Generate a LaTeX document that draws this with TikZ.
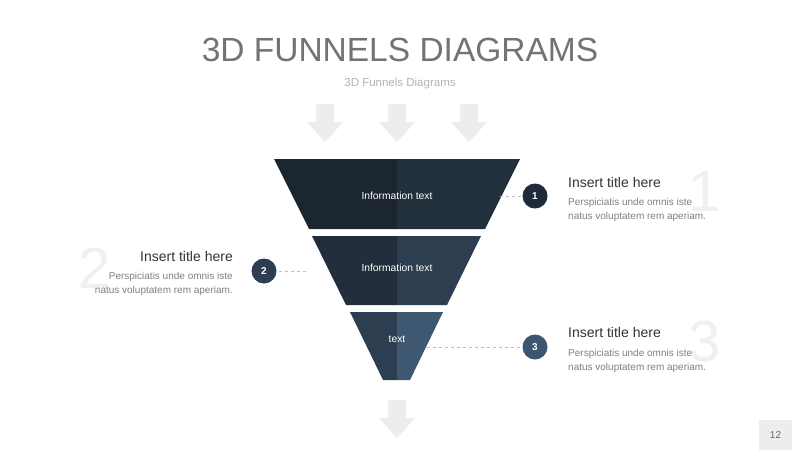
\documentclass[tikz,border=0pt]{standalone}
\usepackage{fontspec}
\setmainfont{Liberation Sans}
\definecolor{c1l}{RGB}{27,38,49}
\definecolor{c1r}{RGB}{34,47,61}
\definecolor{c2l}{RGB}{34,46,59}
\definecolor{c2r}{RGB}{44,62,80}
\definecolor{c3l}{RGB}{44,62,80}
\definecolor{c3r}{RGB}{61,88,112}
\definecolor{n1c}{RGB}{31,43,56}
\definecolor{n2c}{RGB}{44,62,80}
\definecolor{n3c}{RGB}{58,86,112}
\begin{document}
\begin{tikzpicture}[x=1pt,y=-1pt,
  arr/.style={fill=black!7,draw=none},
  num/.style={circle,minimum size=25pt,inner sep=0pt,text=white,font=\fontsize{10}{10}\selectfont\bfseries},
  leader/.style={draw=black!25,dashed,line width=0.5pt},
  ttl/.style={font=\fontsize{14}{14}\selectfont,text=black!80,inner sep=0pt},
  body/.style={font=\fontsize{10}{14}\selectfont,text=black!50,inner sep=0pt,align=left},
  big/.style={font=\fontsize{58}{58}\selectfont,text=black!6,inner sep=0pt},
  lbl/.style={text=white,font=\fontsize{10.3}{10}\selectfont,inner sep=0pt}]
\useasboundingbox (0,0) rectangle (800,450);
\fill[white] (0,0) rectangle (800,450);
\node[font=\fontsize{33.5}{34}\selectfont,text=black!55] (title) at (400,50) {3D FUNNELS DIAGRAMS};
\node[font=\fontsize{11.5}{12}\selectfont,text=black!30] (sub) at (400,84) {3D Funnels Diagrams};
\foreach \x in {325,397,469}
  \fill[arr] (\x-9,104) -- (\x+9,104) -- (\x+9,122) -- (\x+18,122) -- (\x,142) -- (\x-18,122) -- (\x-9,122) -- cycle;
\fill[arr] (388,400) -- (406,400) -- (406,418) -- (415,418) -- (397,438) -- (379,418) -- (388,418) -- cycle;
% funnel
\fill[c1l] (274,159) -- (397,159) -- (397,229) -- (309,229) -- cycle;
\fill[c1r] (397,159) -- (520,159) -- (485,229) -- (397,229) -- cycle;
\fill[c2l] (312,236) -- (397,236) -- (397,305) -- (346,305) -- cycle;
\fill[c2r] (397,236) -- (481,236) -- (447,305) -- (397,305) -- cycle;
\fill[c3l] (350,312) -- (397,312) -- (397,380) -- (383,380) -- cycle;
\fill[c3r] (397,312) -- (443,312) -- (410,380) -- (397,380) -- cycle;
\node[lbl] (s1) at (397,196) {Information text};
\node[lbl] (s2) at (397,268) {Information text};
\node[lbl] (s3) at (397,339) {text};
\coordinate (e1) at (500,196);
\coordinate (e2) at (306,271);
\coordinate (e3) at (427,347);
\node[num,fill=n1c] (n1) at (535,196) {1};
\node[num,fill=n2c] (n2) at (264,271) {2};
\node[num,fill=n3c] (n3) at (535,347) {3};
\draw[leader] (e1) -- (n1);
\draw[leader] (e2) -- (n2);
\draw[leader] (e3) -- (n3);
% text blocks
\node[big,anchor=center] (b1) at (705,192) {1};
\node[big,anchor=center] (b2) at (95,268) {2};
\node[big,anchor=center] (b3) at (705,342) {3};
\node[ttl,anchor=west] (t1) at (568,182) {Insert title here};
\node[body,anchor=north west] (d1) at (568,198) {Perspiciatis unde omnis iste\\natus voluptatem rem aperiam.};
\node[ttl,anchor=east] (t2) at (233,256) {Insert title here};
\node[body,anchor=north east,align=right] (d2) at (233,272) {Perspiciatis unde omnis iste\\natus voluptatem rem aperiam.};
\node[ttl,anchor=west] (t3) at (568,332) {Insert title here};
\node[body,anchor=north west] (d3) at (568,349) {Perspiciatis unde omnis iste\\natus voluptatem rem aperiam.};
\fill[black!7] (759,420) rectangle (792,450);
\node[font=\fontsize{10}{10}\selectfont,text=black!60] (pg) at (775.5,435) {12};
\end{tikzpicture}
\end{document}
